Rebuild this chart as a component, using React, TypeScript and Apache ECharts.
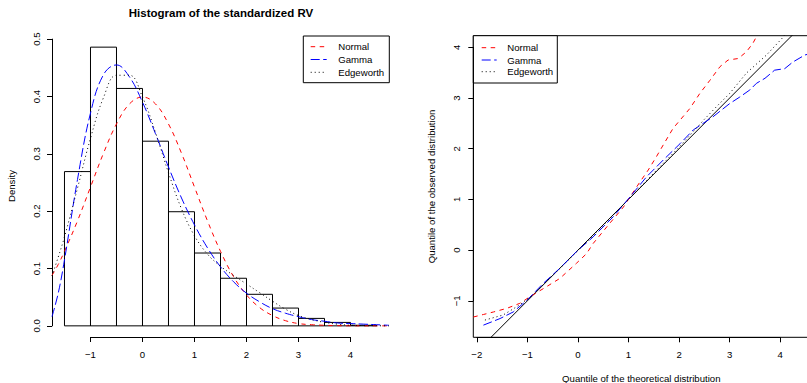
import React, { useEffect, useRef } from "react";
import * as echarts from "echarts";

// ---------- Data ----------
// Histogram: bin left edges, bin width, densities
const histBinStarts = [-1.5, -1, -0.5, 0, 0.5, 1, 1.5, 2, 2.5, 3, 3.5, 4];
const histBinWidth = 0.5;
const histDensity = [0.269, 0.486, 0.414, 0.322, 0.199, 0.127, 0.083, 0.055, 0.031, 0.013, 0.006, 0.001];

// Density curves
const densX = [-1.74, -1.62, -1.5, -1.25, -1, -0.75, -0.5, -0.25, 0, 0.25, 0.5, 0.75, 1, 1.25, 1.5, 1.75, 2, 2.25, 2.5, 2.75, 3, 3.25, 3.5, 3.75, 4, 4.25, 4.5, 4.74];
const normalDensity = [0.088, 0.107, 0.130, 0.183, 0.242, 0.301, 0.352, 0.387, 0.399, 0.387, 0.352, 0.301, 0.242, 0.183, 0.130, 0.086, 0.054, 0.032, 0.018, 0.009, 0.004, 0.002, 0.001, 0.0004, 0.0001, 0, 0, 0];
const gammaDensity = [0.016, 0.057, 0.115, 0.255, 0.371, 0.438, 0.455, 0.434, 0.390, 0.335, 0.277, 0.223, 0.176, 0.136, 0.103, 0.077, 0.057, 0.042, 0.030, 0.022, 0.016, 0.011, 0.008, 0.005, 0.004, 0.003, 0.002, 0.001];
const edgeworthDensity = [0.087, 0.120, 0.155, 0.240, 0.327, 0.398, 0.437, 0.437, 0.399, 0.337, 0.267, 0.204, 0.157, 0.125, 0.104, 0.088, 0.073, 0.058, 0.043, 0.029, 0.018, 0.011, 0.006, 0.003, 0.001, 0.0005, 0.0002, 0];

// QQ plot: [theoretical quantile, observed quantile]
const qqNormal = [
  [-2.07, -1.32], [-1.87, -1.27], [-1.67, -1.22], [-1.41, -1.15], [-1.15, -1.05], [-0.95, -0.92],
  [-0.62, -0.72], [-0.36, -0.56], [-0.03, -0.26], [0.17, -0.07], [0.3, 0.13], [0.63, 0.53],
  [0.9, 0.85], [1.03, 1.05], [1.23, 1.35], [1.39, 1.58], [1.55, 1.84], [1.69, 2.08], [1.88, 2.4],
  [2.21, 2.79], [2.41, 3.09], [2.61, 3.35], [2.81, 3.62], [2.97, 3.75], [3.17, 3.78], [3.33, 3.91],
  [3.46, 4.08], [3.53, 4.21], [3.58, 4.3],
];
const qqGamma = [
  [-1.87, -1.48], [-1.54, -1.35], [-1.28, -1.22], [-1.01, -0.99], [-0.69, -0.66], [-0.36, -0.36],
  [-0.03, -0.03], [0.3, 0.26], [0.7, 0.66], [1.03, 1.05], [1.36, 1.45], [1.69, 1.78], [2.02, 2.1],
  [2.28, 2.37], [2.67, 2.63], [3.0, 2.89], [3.2, 3.02], [3.4, 3.16], [3.53, 3.29], [3.7, 3.39],
  [3.89, 3.55], [4.09, 3.58], [4.25, 3.71], [4.49, 3.85], [4.57, 3.87],
];
const qqEdgeworth = [
  [-1.84, -1.38], [-1.48, -1.28], [-1.15, -1.08], [-0.9, -0.89], [-0.5, -0.5], [0, -0.01],
  [0.5, 0.49], [1, 1.0], [1.5, 1.52], [2, 2.03], [2.5, 2.58], [2.74, 2.83], [3.0, 3.09],
  [3.33, 3.49], [3.73, 3.85], [4.03, 4.17], [4.1, 4.26],
];
const qqIdentity = [[-2.2, -2.2], [4.7, 4.7]];

const legendLabels = ["Normal", "Gamma", "Edgeworth"];

// ---------- Styles ----------
const FONT = "'Liberation Sans', Arial, Helvetica, sans-serif";
const FS = 9.6;
const RED = "#FF0000";
const BLUE = "#0000FF";
const BLACK = "#000000";
const DASH_NORMAL = [4.5, 4.5];
const DASH_GAMMA = [9, 3.5];
const DASH_EDGE = [1, 3];

const minus = (v: number, digits: number) => {
  const s = digits > 0 ? v.toFixed(digits) : String(Math.round(v));
  return s.replace("-", "\u2212");
};

export default function App() {
  const ref = useRef<HTMLDivElement>(null);

  useEffect(() => {
    if (!ref.current) return;
    const chart = echarts.init(ref.current, undefined, { renderer: "svg" });

    // Left panel geometry (R plot region)
    const L = { left: 52, top: 36, width: 337, height: 301, xmin: -1.74, xmax: 4.74, ymin: -0.01944, ymax: 0.50544 };
    const lpx = L.width / (L.xmax - L.xmin);
    const lpy = L.height / (L.ymax - L.ymin);
    // Right panel geometry
    const R = { left: 473.3, top: 35.7, width: 335.7, height: 301.6, xmin: -2.07, xmax: 4.57, ymin: -1.72, ymax: 4.23 };
    const rpx = R.width / (R.xmax - R.xmin);
    const rpy = R.height / (R.ymax - R.ymin);

    const hidden = (gridIndex: number, min: number, max: number) => ({
      gridIndex, type: "value" as const, min, max, show: false,
      axisLine: { show: false, onZero: false }, splitLine: { show: false },
    });

    const axisCommon = {
      axisLine: { show: true, onZero: false, lineStyle: { color: BLACK, width: 1 } },
      axisTick: { show: true, inside: false, length: 5, lineStyle: { color: BLACK, width: 1 } },
      splitLine: { show: false },
    };

    const grids = [
      // 0: left data
      { left: L.left, top: L.top, width: L.width, height: L.height },
      // 1: left x axis (-1..4)
      { left: L.left + (-1 - L.xmin) * lpx, top: L.top, width: 5 * lpx, height: L.height },
      // 2: left y axis (0..0.5)
      { left: L.left, top: L.top + (L.ymax - 0.5) * lpy, width: L.width, height: 0.5 * lpy },
      // 3: right data (with box)
      { left: R.left, top: R.top, width: R.width, height: R.height, show: true, borderColor: BLACK, borderWidth: 1, backgroundColor: "transparent" },
      // 4: right x axis (-2..4)
      { left: R.left + (-2 - R.xmin) * rpx, top: R.top, width: 6 * rpx, height: R.height },
      // 5: right y axis (-1..4)
      { left: R.left, top: R.top + (R.ymax - 4) * rpy, width: R.width, height: 5 * rpy },
    ].map((g) => ({ ...g, containLabel: false, outerBoundsMode: "none" }));

    const xAxes = [
      hidden(0, L.xmin, L.xmax),
      {
        gridIndex: 1, type: "value", min: -1, max: 4, interval: 1, ...axisCommon,
        axisLabel: { color: BLACK, fontSize: FS, fontFamily: FONT, margin: 12, formatter: (v: number) => minus(v, 0) },
      },
      hidden(2, 0, 1),
      hidden(3, R.xmin, R.xmax),
      {
        gridIndex: 4, type: "value", min: -2, max: 4, interval: 1, ...axisCommon,
        axisLabel: { color: BLACK, fontSize: FS, fontFamily: FONT, margin: 12, formatter: (v: number) => minus(v, 0) },
      },
      hidden(5, 0, 1),
    ];
    const yAxes = [
      hidden(0, L.ymin, L.ymax),
      hidden(1, 0, 1),
      {
        gridIndex: 2, type: "value", min: 0, max: 0.5, interval: 0.1, ...axisCommon,
        axisLabel: { color: BLACK, fontSize: FS, fontFamily: FONT, margin: 11, rotate: 90, formatter: (v: number) => minus(v, 1) },
      },
      hidden(3, R.ymin, R.ymax),
      hidden(4, 0, 1),
      {
        gridIndex: 5, type: "value", min: -1, max: 4, interval: 1, ...axisCommon,
        axisLabel: { color: BLACK, fontSize: FS, fontFamily: FONT, margin: 12, rotate: 90, formatter: (v: number) => minus(v, 0) },
      },
    ];

    const histData = histBinStarts.map((s, i) => [s, s + histBinWidth, histDensity[i]]);
    const zip = (xs: number[], ys: number[]) => xs.map((x, i) => [x, ys[i]]);

    const lineSeries = (name: string, data: number[][], color: string, dash: number[], xi: number, yi: number, smooth: number | boolean) => ({
      type: "line", name, data, xAxisIndex: xi, yAxisIndex: yi, showSymbol: false, symbol: "none",
      smooth, clip: true, silent: true,
      lineStyle: { color, width: 1, type: dash, cap: "butt" },
      emphasis: { disabled: true },
    });

    const legendGroup = (bx: number, by: number, bw: number, bh: number, lx1: number, lx2: number, tx: number, rows: number[]) => {
      const colors = [RED, BLUE, BLACK];
      const dashes = [DASH_NORMAL, DASH_GAMMA, DASH_EDGE];
      const children: any[] = [
        { type: "rect", shape: { x: bx, y: by, width: bw, height: bh }, style: { fill: "#fff", stroke: BLACK, lineWidth: 1 } },
      ];
      legendLabels.forEach((lab, i) => {
        children.push({ type: "line", shape: { x1: lx1, y1: rows[i], x2: lx2, y2: rows[i] }, style: { stroke: colors[i], lineWidth: 1, lineDash: dashes[i] } });
        children.push({ type: "text", x: tx, y: rows[i], style: { text: lab, fill: BLACK, fontSize: FS, fontFamily: FONT, align: "left", verticalAlign: "middle" } });
      });
      return { type: "group", children, z: 100 };
    };

    const option: any = {
      animation: false,
      backgroundColor: "#ffffff",
      grid: grids,
      xAxis: xAxes,
      yAxis: yAxes,
      series: [
        {
          type: "custom", name: "Histogram", xAxisIndex: 0, yAxisIndex: 0, data: histData, silent: true, clip: false,
          encode: { x: [0, 1], y: 2 },
          renderItem: (_p: any, api: any) => {
            const a = api.coord([api.value(0), 0]);
            const b = api.coord([api.value(1), api.value(2)]);
            return {
              type: "rect",
              shape: { x: a[0], y: b[1], width: b[0] - a[0], height: a[1] - b[1] },
              style: { fill: "none", stroke: BLACK, lineWidth: 1 },
            };
          },
        },
        lineSeries("Normal", zip(densX, normalDensity), RED, DASH_NORMAL, 0, 0, 0.4),
        lineSeries("Gamma", zip(densX, gammaDensity), BLUE, DASH_GAMMA, 0, 0, 0.4),
        lineSeries("Edgeworth", zip(densX, edgeworthDensity), BLACK, DASH_EDGE, 0, 0, 0.4),
        lineSeries("Identity", qqIdentity, BLACK, [] as any, 3, 3, false),
        lineSeries("Normal QQ", qqNormal, RED, DASH_NORMAL, 3, 3, false),
        lineSeries("Gamma QQ", qqGamma, BLUE, DASH_GAMMA, 3, 3, false),
        lineSeries("Edgeworth QQ", qqEdgeworth, BLACK, DASH_EDGE, 3, 3, false),
      ],
      graphic: [
        { type: "text", x: 221, y: 12.5, style: { text: "Histogram of the standardized RV", fill: BLACK, fontSize: 11.5, fontWeight: "bold", fontFamily: FONT, align: "center", verticalAlign: "middle" } },
        { type: "text", x: 11, y: 186, rotation: Math.PI / 2, style: { text: "Density", fill: BLACK, fontSize: FS, fontFamily: FONT, align: "center", verticalAlign: "middle" } },
        { type: "text", x: 431.5, y: 186.5, rotation: Math.PI / 2, style: { text: "Quantile of the observed distribution", fill: BLACK, fontSize: FS, fontFamily: FONT, align: "center", verticalAlign: "middle" } },
        { type: "text", x: 641.3, y: 378.5, style: { text: "Quantile of the theoretical distribution", fill: BLACK, fontSize: FS, fontFamily: FONT, align: "center", verticalAlign: "middle" } },
        legendGroup(303.3, 36, 86, 46.7, 310.7, 326.7, 338.3, [46.7, 59.5, 72.3]),
        legendGroup(473.3, 35.7, 84, 47.3, 481.7, 496.7, 507.3, [47.7, 60, 71.7]),
      ],
    };
    // solid identity line
    option.series[4].lineStyle.type = "solid";

    chart.setOption(option);
    return () => chart.dispose();
  }, []);

  return <div ref={ref} style={{ position: "fixed", left: 0, top: 0, width: 807, height: 383 }} />;
}
